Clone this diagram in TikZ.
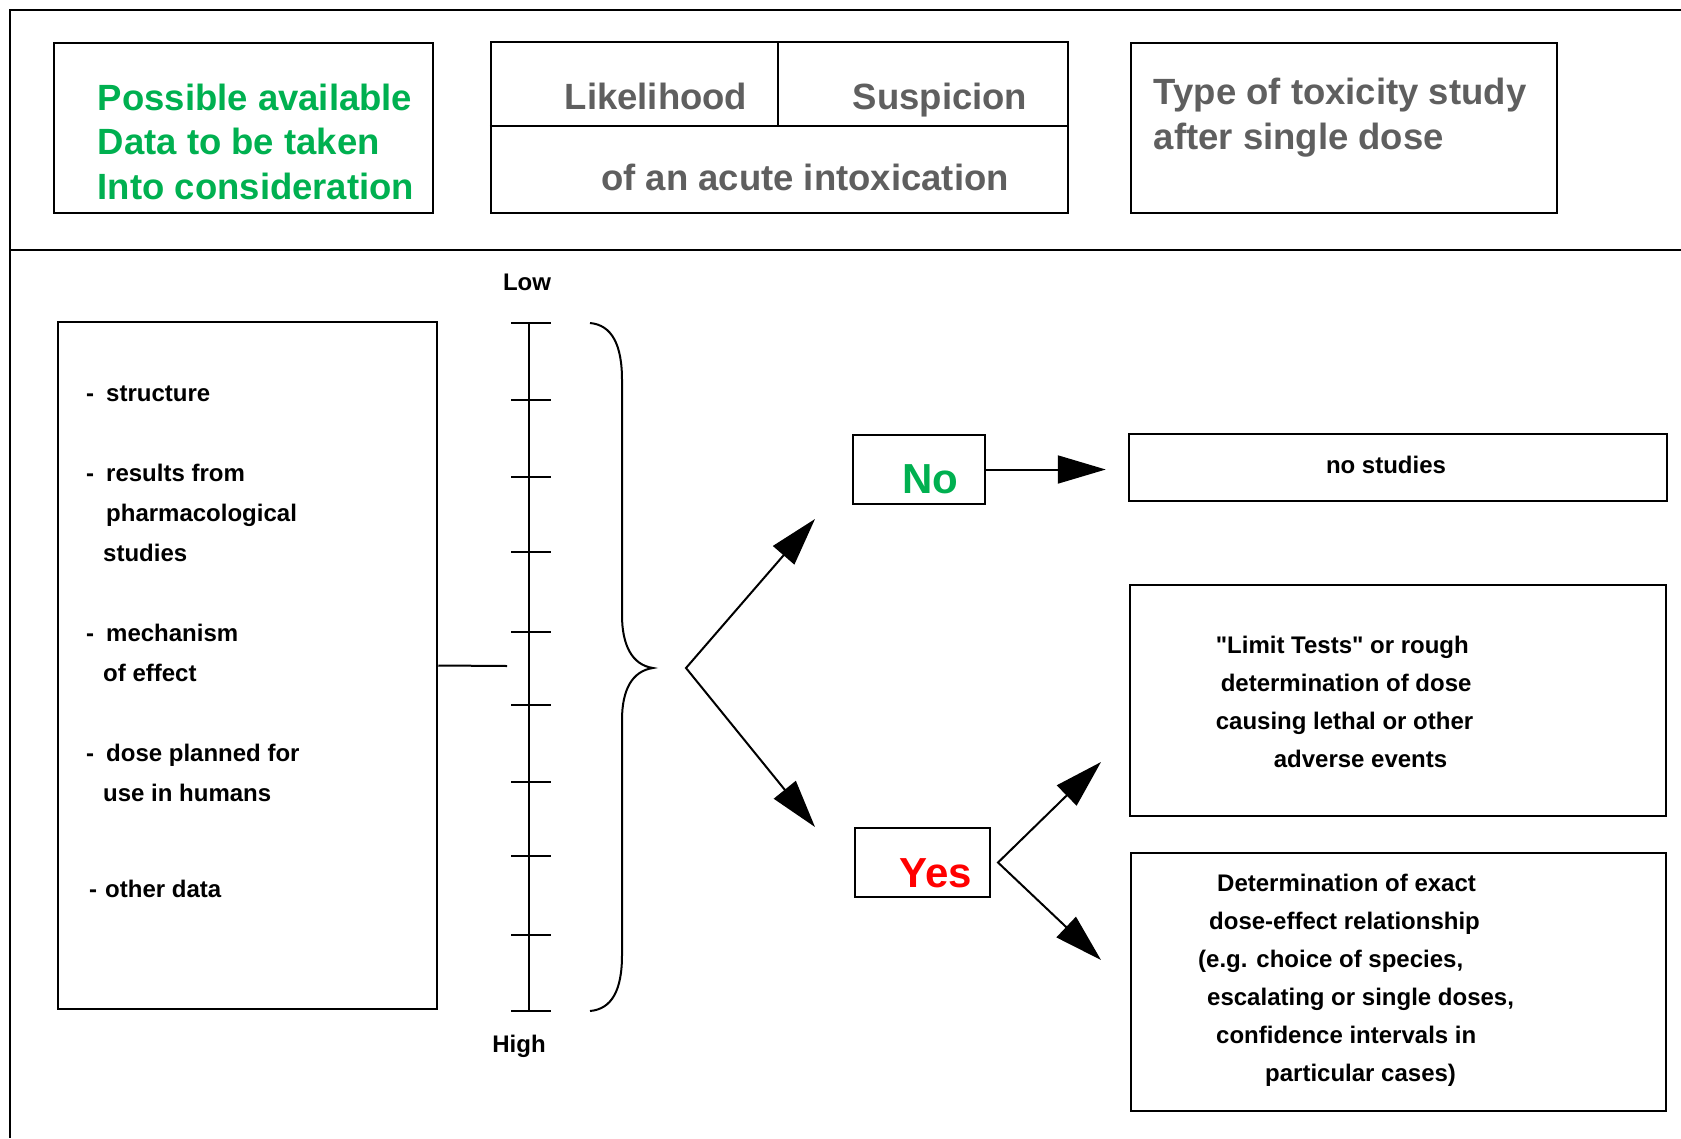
\documentclass[tikz,border=0pt]{standalone}
\usepackage{fontspec}
\setmainfont{Liberation Sans}[Ligatures=TeXOff]
\usetikzlibrary{arrows.meta}

\definecolor{headgreen}{RGB}{0,176,80}
\definecolor{headgray}{RGB}{95,95,95}

\tikzset{
  box/.style={draw, line width=2.5pt, inner sep=0pt},
  arr/.style={-{Triangle[length=48pt,width=28pt]}, line width=2pt},
  twoarr/.style={{Triangle[length=48pt,width=28pt]}-{Triangle[length=48pt,width=28pt]}, line width=2pt},
  txt/.style={inner sep=0pt, align=left, font=\fontsize{24}{38}\selectfont\bfseries},
  head/.style={inner sep=0pt, align=left, font=\fontsize{36.5}{44.5}\selectfont\bfseries},
  answer/.style={inner sep=0pt, font=\fontsize{42}{42}\selectfont\bfseries},
  scaletick/.style={line width=2.5pt}
}

\begin{document}
\begin{tikzpicture}[x=1pt, y=-1pt]
\useasboundingbox (0,0) rectangle (1681,1138);
\draw[line width=2.5pt] (1681,10) -- (10,10) -- (10,1138);
\draw[line width=2.5pt] (10,250) -- (1681,250);

% header row
\node[box, minimum width=379, minimum height=170] (datahead) at (243.5,128) {};
\node[head, text=headgreen, anchor=north west] (datatxt) at (97.6,83.5) {Possible available\\Data to be taken\\Into consideration};

\node[box, minimum width=577, minimum height=171] (likely) at (779.5,127.5) {};
\coordinate (likemid) at (778,125.5);
\draw[line width=2pt] (likely.west |- likemid) -- (likely.east |- likemid);
\draw[line width=2pt] (likemid) -- (likemid |- likely.north);
\node[head, text=headgray, anchor=base] (likelihood) at (656,109.5) {Likelihood};
\node[head, text=headgray, anchor=base] (suspicion) at (940,109.5) {Suspicion};
\node[head, text=headgray, anchor=base] (acute) at (805,190.5) {of an acute intoxication};

\node[box, minimum width=426, minimum height=170] (typehead) at (1344,128) {};
\node[head, text=headgray, anchor=north west] (typetxt) at (1153.6,78) {Type of toxicity study\\after single dose};

% data box and scale
\node[box, minimum width=379, minimum height=687] (facts) at (247.5,665.5) {};
\node[txt, font=\fontsize{24}{40}\selectfont\bfseries, anchor=north west] (factlist) at (86,386) {\makebox[20pt][l]{-}structure\\[40pt]
\makebox[20pt][l]{-}results from\\
\hspace*{20pt}pharmacological\\
\hspace*{17pt}studies\\[40pt]
\makebox[20pt][l]{-}mechanism\\
\hspace*{17pt}of effect\\[40pt]
\makebox[20pt][l]{-}dose planned for\\
\hspace*{17pt}use in humans\\[56pt]
\hspace*{3pt}\makebox[16pt][l]{-}other data};

\node[txt, anchor=base] (low) at (527,290) {Low};
\node[txt, anchor=base] (high) at (519,1052) {High};
\draw[line width=2.5pt] (529,323) -- (529,1011);
\draw[scaletick] (511,323) -- (551,323);
\draw[scaletick] (511,400) -- (551,400);
\draw[scaletick] (511,477) -- (551,477);
\draw[scaletick] (511,552) -- (551,552);
\draw[scaletick] (511,632) -- (551,632);
\draw[scaletick] (511,705) -- (551,705);
\draw[scaletick] (511,782) -- (551,782);
\draw[scaletick] (511,856) -- (551,856);
\draw[scaletick] (511,935) -- (551,935);
\draw[scaletick] (511,1011) -- (551,1011);

\coordinate (scalein) at (507,666);
\draw[line width=2pt] (facts.east) -- (scalein);

\draw[line width=2pt] (590,323) .. controls (612,325) and (622,345) .. (622,380) -- (622,615)
  .. controls (622,645) and (632,665) .. (653,668) .. controls (632,671) and (622,690) .. (622,720)
  -- (622,955) .. controls (622,990) and (612,1009) .. (590,1011);

% decision
\coordinate (fork) at (686,668);
\coordinate (forkup) at (815,519);
\coordinate (forkdown) at (815,827);
\draw[twoarr] (forkup) -- (fork) -- (forkdown);

\node[box, line width=2pt, minimum width=132, minimum height=69] (nobox) at (919,469.5) {};
\node[answer, text=headgreen, anchor=base] (notxt) at (930,493) {No};
\node[box, line width=2pt, minimum width=135, minimum height=69] (yesbox) at (922.5,862.5) {};
\node[answer, text=red, anchor=base] (yestxt) at (936,887) {Yes};

% studies
\node[box, minimum width=538, minimum height=67] (nostud) at (1398,467.5) {};
\node[txt, anchor=base] (nostudtxt) at (1386,473) {no studies};
\draw[arr, shorten >=22pt] (nobox.east) -- (nobox.east -| nostud.west);

\node[box, minimum width=536, minimum height=231] (limit) at (1398,700.5) {};
\node[txt, anchor=north west] (limittxt) at (1215.6,636) {"Limit Tests" or rough\\
\hspace*{5pt}determination of dose\\
causing lethal or other\\
\hspace*{58pt}adverse events};

\node[box, minimum width=535, minimum height=258] (exact) at (1398.5,982) {};
\node[txt, anchor=north west] (exacttxt) at (1198,873.5) {\hspace*{19pt}Determination of exact\\
\hspace*{11pt}dose-effect relationship\\
(e.g. choice of species,\\
\hspace*{9pt}escalating or single doses,\\
\hspace*{18pt}confidence intervals in\\
\hspace*{67pt}particular cases)};

\coordinate (yesfork) at ([xshift=7pt]yesbox.east);
\coordinate (yesup) at (1101,762);
\coordinate (yesdown) at (1101,960);
\draw[twoarr] (yesup) -- (yesfork) -- (yesdown);
\end{tikzpicture}
\end{document}
